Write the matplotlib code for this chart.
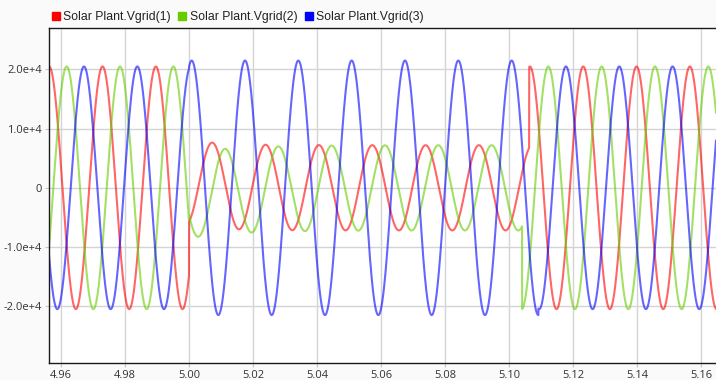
import matplotlib
matplotlib.use("Agg")
import matplotlib.pyplot as plt
import numpy as np
from matplotlib.lines import Line2D

# Scope window (seconds) and grid frequency
t_min, t_max = 4.95625, 5.1647
f_grid = 60.0

series_names = ["Solar Plant.Vgrid(1)", "Solar Plant.Vgrid(2)", "Solar Plant.Vgrid(3)"]
series_colors = ["#ff0000", "#66cc00", "#0000ff"]

# Values: amplitude and one peak time per phase for each stage
t_fault_on = 5.0
t_fault_off = [5.1063, 5.1041, 5.1092]

amp_pre = [2.05e4, 2.05e4, 2.05e4]
peak_pre = [4.97297, 4.97844, 4.98385]

amp_fault = [7.2e3, 7.2e3, 2.15e4]
peak_fault = [5.00728, 5.01125, 5.00084]
dc_fault = [0.9e3, -1.3e3, 0.0]     # offset right after the fault, decays
dc_tau = [0.010, 0.015, 0.010]

amp_post = [2.05e4, 2.05e4, 2.05e4]
peak_post = [5.1232, 5.1123, 5.1178]

x_ticks = [4.96, 4.98, 5.00, 5.02, 5.04, 5.06, 5.08, 5.10, 5.12, 5.14, 5.16]
y_ticks = [-2.0e4, -1.0e4, 0.0, 1.0e4, 2.0e4]
y_tick_labels = ["-2.0e+4", "-1.0e+4", "0", "1.0e+4", "2.0e+4"]

t = np.arange(t_min, t_max, 2e-5)
w = 2 * np.pi * f_grid

fig = plt.figure(figsize=(7.16, 3.80), dpi=100, facecolor="#fafafa")
ax = fig.add_axes([49 / 716, 17 / 380, 667 / 716, 335 / 380])
ax.set_facecolor("white")

for i in range(3):
    v_pre = amp_pre[i] * np.cos(w * (t - peak_pre[i]))
    v_fault = (amp_fault[i] * np.cos(w * (t - peak_fault[i]))
               + dc_fault[i] * np.exp(-(t - t_fault_on) / dc_tau[i]))
    v_post = amp_post[i] * np.cos(w * (t - peak_post[i]))
    v = np.where(t < t_fault_on, v_pre, np.where(t < t_fault_off[i], v_fault, v_post))
    ax.plot(t, v, color=series_colors[i], lw=1.5, alpha=0.6)

ax.set_xlim(t_min, t_max)
ax.set_ylim(-2.96e4, 2.70e4)
ax.set_xticks(x_ticks)
ax.set_xticklabels([f"{x:.2f}" for x in x_ticks])
ax.set_yticks(y_ticks)
ax.set_yticklabels(y_tick_labels)
ax.grid(True, color="#d4d4d4", lw=1)
ax.set_axisbelow(True)
ax.tick_params(length=3, color="#c8c8c8", labelsize=8, labelcolor="#333333", pad=2)
for lab in ax.get_xticklabels() + ax.get_yticklabels():
    lab.set_family("Open Sans")

for side in ["left", "bottom", "top"]:
    ax.spines[side].set_color("#1a1a1a")
    ax.spines[side].set_linewidth(1)
ax.spines["right"].set_visible(False)

handles = [Line2D([], [], marker="s", ls="none", color=c, markersize=6) for c in series_colors]
fig.legend(handles, series_names, loc="upper left", bbox_to_anchor=(0.054, 1.0),
           ncol=3, frameon=False, handletextpad=0.1, columnspacing=0.45, handlelength=1.0,
           prop={"family": "Liberation Sans", "size": 8.8}, labelcolor="#222222")

fig.savefig("out.png", dpi=100, facecolor=fig.get_facecolor())
